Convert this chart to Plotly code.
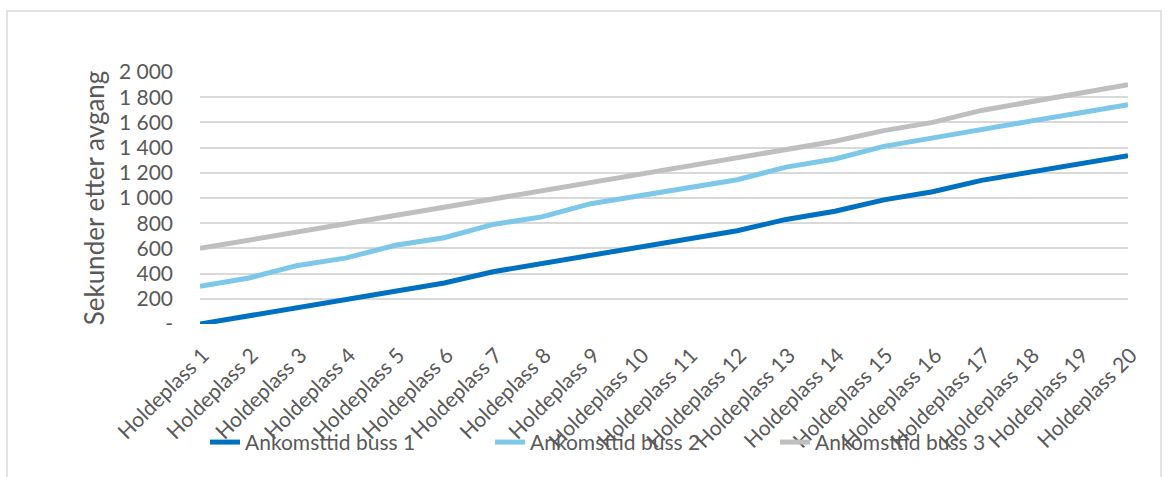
import plotly.graph_objects as go

# Stops along the route
stops = [f"Holdeplass {i}" for i in range(1, 21)]

# Arrival time (seconds after departure) at each stop
buss_1 = [0, 65, 130, 195, 260, 325, 415, 480, 545, 610,
          675, 740, 830, 895, 985, 1050, 1140, 1205, 1270, 1335]
buss_2 = [300, 365, 465, 525, 625, 685, 790, 850, 955, 1015,
          1080, 1145, 1245, 1310, 1410, 1480, 1545, 1610, 1675, 1740]
buss_3 = [600, 665, 730, 795, 860, 925, 990, 1055, 1125, 1190,
          1260, 1325, 1385, 1450, 1535, 1600, 1695, 1760, 1835, 1900]

series_names = ["Ankomsttid buss 1", "Ankomsttid buss 2", "Ankomsttid buss 3"]
series_values = [buss_1, buss_2, buss_3]
series_colors = ["#0070C0", "#7DC7E8", "#BFBFBF"]

# Y axis ticks, zero shown as a dash
y_tickvals = [0, 200, 400, 600, 800, 1000, 1200, 1400, 1600, 1800, 2000]
y_ticktext = ["-", "200", "400", "600", "800", "1 000", "1 200",
              "1 400", "1 600", "1 800", "2 000"]

FONT = "Lato"
TEXT = "#595959"
GRID = "#D9D9D9"

fig = go.Figure()
for name, vals, color in zip(series_names, series_values, series_colors):
    fig.add_trace(go.Scatter(
        x=stops, y=vals, name=name, mode="lines",
        line=dict(color=color, width=5),
    ))

fig.update_layout(
    width=1169, height=477,
    margin=dict(l=200, r=41, t=72, b=153),
    paper_bgcolor="white", plot_bgcolor="white",
    font=dict(family=FONT, size=21, color=TEXT),
    showlegend=True,
    legend=dict(
        orientation="h", x=5 / 928, xanchor="left",
        y=-0.47, yanchor="middle",
        font=dict(family=FONT, size=21, color=TEXT),
        entrywidth=240, bgcolor="rgba(0,0,0,0)",
        itemclick=False, itemdoubleclick=False,
    ),
    xaxis=dict(
        type="category", tickangle=-45,
        showgrid=False, zeroline=False, showline=False,
        ticks="", ticklabelstandoff=14, ticklabelshift=3,
        tickfont=dict(family=FONT, size=21, color=TEXT),
        automargin=False,
    ),
    yaxis=dict(
        range=[0, 2000], tickvals=y_tickvals, ticktext=y_ticktext,
        showgrid=True, gridcolor=GRID, gridwidth=1.5,
        zeroline=False, showline=False, ticks="",
        ticklabelstandoff=26,
        tickfont=dict(family=FONT, size=21, color=TEXT),
        title=dict(text="Sekunder etter avgang", standoff=6,
                   font=dict(family=FONT, size=26, color=TEXT)),
        automargin=False,
    ),
    shapes=[dict(
        type="rect", xref="paper", yref="paper",
        x0=-193 / 928, x1=1161 / 928 - 200 / 928,
        y0=-170 / 252, y1=(324 - 11) / 252,
        line=dict(color=GRID, width=1.5), fillcolor="rgba(0,0,0,0)",
        layer="below",
    )],
)

fig.write_html("out.html")
